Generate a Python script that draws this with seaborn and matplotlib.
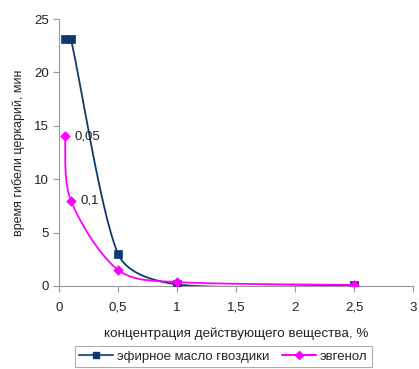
import numpy as np
import pandas as pd
import matplotlib
matplotlib.use("Agg")
import matplotlib.pyplot as plt
import seaborn as sns
from matplotlib.lines import Line2D

# data
conc = [0.05, 0.1, 0.5, 1.0, 2.5]
clove_oil = [23.1, 23.1, 3.0, 0.15, 0.05]
eugenol = [14.0, 8.0, 1.5, 0.37, 0.1]
series_names = ["эфирное масло гвоздики", "эвгенол"]
point_labels = ["0,05", "0,1"]
x_ticks = [0, 0.5, 1, 1.5, 2, 2.5, 3]
x_tick_labels = ["0", "0,5", "1", "1,5", "2", "2,5", "3"]
y_ticks = [0, 5, 10, 15, 20, 25]

sns.set_style("ticks")
plt.rcParams['font.family'] = ['Liberation Sans', 'DejaVu Sans']

# approximate screen scale (px per data unit) used only for smoothing shape
SX, SY = 118.0, 10.7

def smooth(xs, ys, n=50):
    """Excel-like smooth line through data points (Catmull-Rom Bezier, capped tangents)."""
    P = np.column_stack([np.asarray(xs) * SX, np.asarray(ys) * SY]).astype(float)
    m = len(P)
    tans = []
    for i in range(m):
        a = P[i - 1] if i > 0 else P[i]
        b = P[i + 1] if i < m - 1 else P[i]
        tans.append((b - a) / 6.0)
    out = []
    for i in range(m - 1):
        p1, p2 = P[i], P[i + 1]
        cap = np.linalg.norm(p2 - p1) / 3.0
        t1, t2 = tans[i], tans[i + 1]
        n1, n2 = np.linalg.norm(t1), np.linalg.norm(t2)
        if n1 > cap:
            t1 = t1 * cap / n1
        if n2 > cap:
            t2 = t2 * cap / n2
        c1 = p1 + t1
        c2 = p2 - t2
        t = np.linspace(0, 1, n)[:, None]
        seg = ((1 - t) ** 3) * p1 + 3 * ((1 - t) ** 2) * t * c1 + 3 * (1 - t) * t ** 2 * c2 + t ** 3 * p2
        out.append(seg if i == 0 else seg[1:])
    res = np.vstack(out)
    return res[:, 0] / SX, res[:, 1] / SY

fig = plt.figure(figsize=(4.19, 3.69), dpi=100)
ax = fig.add_axes([0.141, 0.225, 0.845, 0.7235])

navy = "#0B3A6B"
pink = "#FF00FF"

for ys, col, mk, ms in [(clove_oil, navy, "s", 40), (eugenol, pink, "D", 24)]:
    cx, cy = smooth(conc, ys)
    cdf = pd.DataFrame({"x": cx, "y": cy})
    sns.lineplot(data=cdf, x="x", y="y", sort=False, estimator=None, color=col, lw=1.3, ax=ax)
    sns.scatterplot(x=conc, y=ys, marker=mk, s=ms, color=col, edgecolor=col, linewidth=0.5, ax=ax, zorder=5)

for i, lab in enumerate(point_labels):
    ax.annotate(lab, (conc[i], eugenol[i]), xytext=(7, 0), textcoords="offset points",
                ha="left", va="center", fontsize=9.5, color="#222222")

ax.set_xlim(0, 3)
ax.set_ylim(0, 25)
ax.set_xticks(x_ticks)
ax.set_xticklabels(x_tick_labels)
ax.set_yticks(y_ticks)
ax.tick_params(labelsize=9.5, colors="#222222", length=4, color="#999999", width=0.8, pad=3.5)
ax.tick_params(axis="x", pad=7.5)
for s in ["top", "right"]:
    ax.spines[s].set_visible(False)
for s in ["left", "bottom"]:
    ax.spines[s].set_color("#999999")
    ax.spines[s].set_linewidth(0.8)

ax.set_xlabel("концентрация действующего вещества, %", fontsize=9.7, color="#222222", labelpad=9.5)
ax.set_ylabel("время гибели церкарий, мин", fontsize=9, color="#222222", labelpad=6)

handles = [Line2D([], [], color="#2F5F8F", marker="s", markersize=5, markerfacecolor=navy,
                  markeredgecolor=navy, lw=1.5),
           Line2D([], [], color=pink, marker="D", markersize=4.5, lw=1.5)]
leg = fig.legend(handles, series_names, loc="upper center", bbox_to_anchor=(0.533, 1 - 346 / 369), ncol=2,
                 fontsize=9.5, frameon=True, fancybox=False, handlelength=2.6, columnspacing=0.9,
                 borderpad=0.35, handletextpad=0.3, borderaxespad=0)
leg.get_frame().set_edgecolor("#999999")
leg.get_frame().set_linewidth(0.8)

fig.savefig("out.png", dpi=100)
